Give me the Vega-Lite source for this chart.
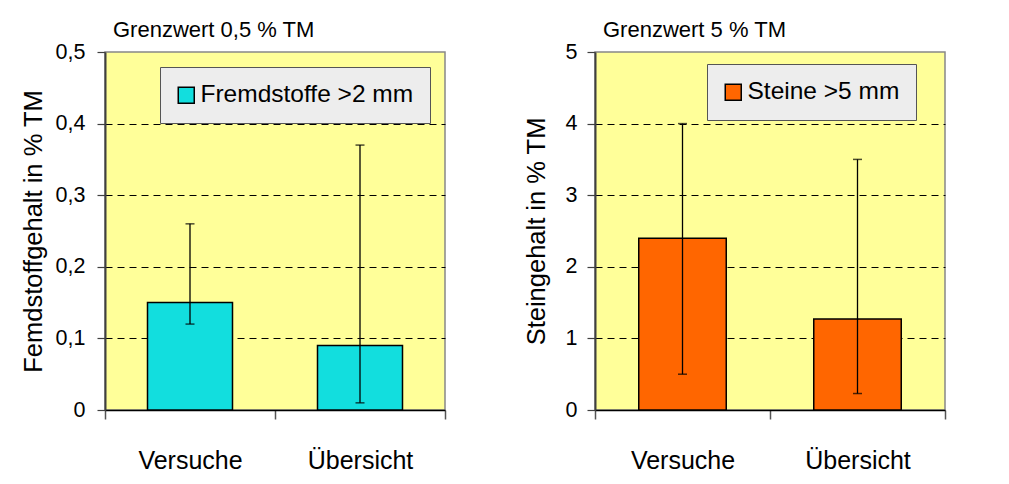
{
  "$schema": "https://vega.github.io/schema/vega-lite/v6.json",
  "padding": {"left": 20, "top": 18, "right": 5, "bottom": 0},
  "background": "white",
  "datasets": {
    "fremd": [
      {"Kategorie": "Versuche", "Wert": 0.15, "Min": 0.12, "Max": 0.26, "Serie": "Fremdstoffe >2 mm"},
      {"Kategorie": "Übersicht", "Wert": 0.09, "Min": 0.01, "Max": 0.37, "Serie": "Fremdstoffe >2 mm"}
    ],
    "steine": [
      {"Kategorie": "Versuche", "Wert": 2.4, "Min": 0.5, "Max": 4.0, "Serie": "Steine >5 mm"},
      {"Kategorie": "Übersicht", "Wert": 1.27, "Min": 0.23, "Max": 3.5, "Serie": "Steine >5 mm"}
    ]
  },
  "spacing": 76,
  "hconcat": [
    {
      "title": {"text": "Grenzwert 0,5 % TM", "anchor": "start", "frame": "group", "dx": 8, "offset": -18, "baseline": "alphabetic", "fontSize": 22, "fontWeight": "normal", "color": "black"},
      "width": 340,
      "height": 358,
      "data": {"name": "fremd"},
      "encoding": {
        "x": {
          "field": "Kategorie", "type": "nominal", "sort": ["Versuche", "Übersicht"],
          "scale": {"paddingInner": 0, "paddingOuter": 0},
          "axis": {"title": null, "tickBand": "extent", "tickSize": 9, "labelAngle": 0, "labelBaseline": "alphabetic", "labelPadding": 49, "labelFontSize": 25, "domainColor": "black", "domainWidth": 1.5, "tickColor": "#555555", "tickWidth": 1.5, "labelColor": "black"}
        }
      },
      "layer": [
        {
          "mark": {"type": "bar", "stroke": "black", "strokeWidth": 1.5, "width": {"band": 0.5}},
          "encoding": {
            "y": {
              "field": "Wert", "type": "quantitative", "title": "Femdstoffgehalt in % TM",
              "scale": {"domain": [0, 0.5]},
              "axis": {
                "values": [0, 0.1, 0.2, 0.3, 0.4, 0.5],
                "labelExpr": "datum.value == 0 ? '0' : replace(format(datum.value, '.1f'), '.', ',')",
                "grid": true, "gridDash": [7, 5],
                "gridColor": {"condition": {"test": "datum.value == 0 || datum.value == 0.5", "value": "transparent"}, "value": "black"},
                "tickSize": 8, "labelPadding": 12, "labelFontSize": 21.5, "labelColor": "black",
                "domainColor": "#404040", "domainWidth": 2, "tickColor": "#404040", "tickWidth": 1.2,
                "titleX": -64, "titleY": 179, "titleBaseline": "alphabetic", "titleFontSize": 25.5, "titleFontWeight": "normal", "titleColor": "black"
              }
            },
            "color": {
              "field": "Serie", "type": "nominal",
              "scale": {"range": ["#12DEDE"]},
              "legend": {"orient": "none", "legendX": 55, "legendY": 15, "title": null, "fillColor": "#EDEDED", "strokeColor": "#555555", "padding": 16, "symbolType": "square", "symbolSize": 256, "symbolStrokeColor": "black", "symbolStrokeWidth": 1.5, "symbolOffset": -2, "labelOffset": 2, "labelFontSize": 24.5, "labelLimit": 400, "labelColor": "black"}
            }
          }
        },
        {
          "mark": {"type": "rule", "color": "black", "strokeWidth": 1.3},
          "encoding": {"y": {"field": "Min", "type": "quantitative", "title": "Femdstoffgehalt in % TM"}, "y2": {"field": "Max"}}
        },
        {
          "mark": {"type": "tick", "color": "black", "thickness": 1.5, "size": 9, "orient": "horizontal"},
          "encoding": {"y": {"field": "Min", "type": "quantitative", "title": "Femdstoffgehalt in % TM"}}
        },
        {
          "mark": {"type": "tick", "color": "black", "thickness": 1.5, "size": 9, "orient": "horizontal"},
          "encoding": {"y": {"field": "Max", "type": "quantitative", "title": "Femdstoffgehalt in % TM"}}
        }
      ]
    },
    {
      "title": {"text": "Grenzwert 5 % TM", "anchor": "start", "frame": "group", "dx": 8, "offset": -18, "baseline": "alphabetic", "fontSize": 22, "fontWeight": "normal", "color": "black"},
      "width": 350,
      "height": 358,
      "data": {"name": "steine"},
      "encoding": {
        "x": {
          "field": "Kategorie", "type": "nominal", "sort": ["Versuche", "Übersicht"],
          "scale": {"paddingInner": 0, "paddingOuter": 0},
          "axis": {"title": null, "tickBand": "extent", "tickSize": 9, "labelAngle": 0, "labelBaseline": "alphabetic", "labelPadding": 49, "labelFontSize": 25, "domainColor": "black", "domainWidth": 1.5, "tickColor": "#555555", "tickWidth": 1.5, "labelColor": "black"}
        }
      },
      "layer": [
        {
          "mark": {"type": "bar", "stroke": "black", "strokeWidth": 1.5, "width": {"band": 0.5}},
          "encoding": {
            "y": {
              "field": "Wert", "type": "quantitative", "title": "Steingehalt in % TM",
              "scale": {"domain": [0, 5]},
              "axis": {
                "values": [0, 1, 2, 3, 4, 5],
                "format": "d",
                "grid": true, "gridDash": [7, 5],
                "gridColor": {"condition": {"test": "datum.value == 0 || datum.value == 5", "value": "transparent"}, "value": "black"},
                "tickSize": 8, "labelPadding": 10, "labelFontSize": 21.5, "labelColor": "black",
                "domainColor": "#404040", "domainWidth": 2, "tickColor": "#404040", "tickWidth": 1.2,
                "titleX": -51, "titleY": 179, "titleBaseline": "alphabetic", "titleFontSize": 25.5, "titleFontWeight": "normal", "titleColor": "black"
              }
            },
            "color": {
              "field": "Serie", "type": "nominal",
              "scale": {"range": ["#FF6600"]},
              "legend": {"orient": "none", "legendX": 112, "legendY": 12, "title": null, "fillColor": "#EDEDED", "strokeColor": "#555555", "padding": 16, "symbolType": "square", "symbolSize": 256, "symbolStrokeColor": "black", "symbolStrokeWidth": 1.5, "symbolOffset": -2, "labelOffset": 2, "labelFontSize": 24.5, "labelLimit": 400, "labelColor": "black"}
            }
          }
        },
        {
          "mark": {"type": "rule", "color": "black", "strokeWidth": 1.3},
          "encoding": {"y": {"field": "Min", "type": "quantitative", "title": "Steingehalt in % TM"}, "y2": {"field": "Max"}}
        },
        {
          "mark": {"type": "tick", "color": "black", "thickness": 1.5, "size": 9, "orient": "horizontal"},
          "encoding": {"y": {"field": "Min", "type": "quantitative", "title": "Steingehalt in % TM"}}
        },
        {
          "mark": {"type": "tick", "color": "black", "thickness": 1.5, "size": 9, "orient": "horizontal"},
          "encoding": {"y": {"field": "Max", "type": "quantitative", "title": "Steingehalt in % TM"}}
        }
      ]
    }
  ],
  "resolve": {"scale": {"color": "independent", "y": "independent"}},
  "config": {
    "font": "Liberation Sans",
    "view": {"fill": "#FFFF99", "stroke": "#888888", "strokeWidth": 1.5},
    "axis": {"labelFont": "Liberation Sans", "titleFont": "Liberation Sans"},
    "legend": {"labelFont": "Liberation Sans"}
  }
}
